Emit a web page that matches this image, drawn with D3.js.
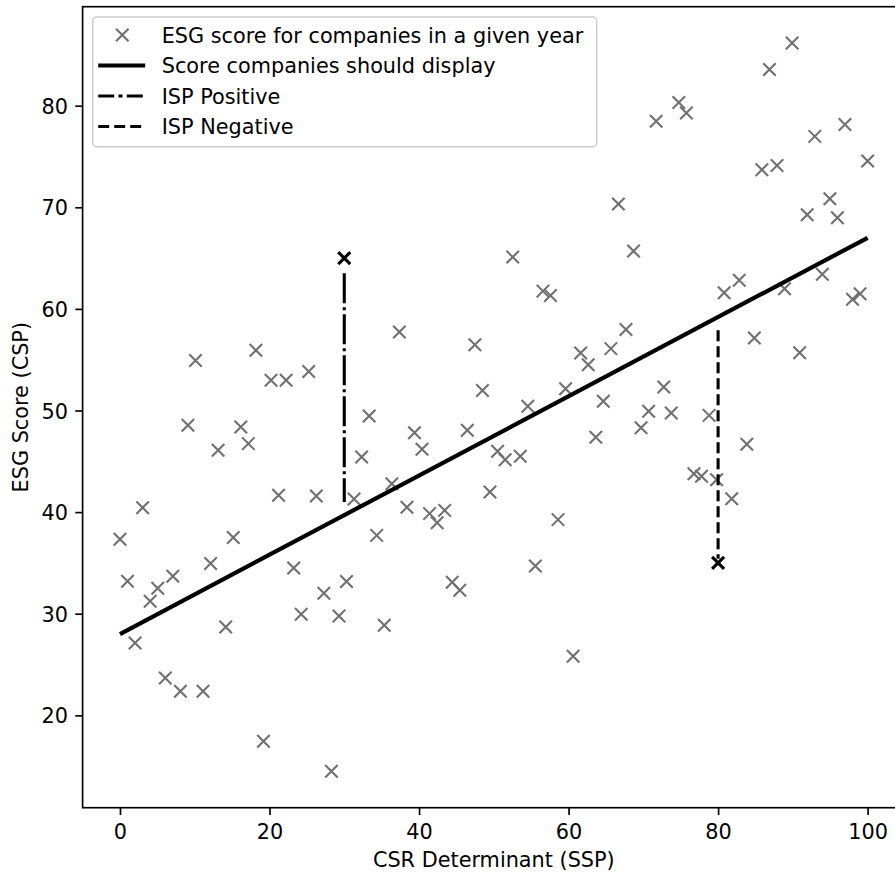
<!DOCTYPE html>
<html>
<head>
<meta charset="utf-8">
<script src="https://cdn.jsdelivr.net/npm/d3@7"></script>
<style>
	body { margin: 0; background: #fff; }
	text { font-family: "DejaVu Sans", sans-serif; }
</style>
</head>
<body>
<svg id="chart" width="895" height="878"></svg>
<script>
'use strict';

// CSR determinant (x) of each company-year
const ssp = [0, 1.01, 2.02, 3.03, 4.04, 5.05, 6.06, 7.07, 8.08, 9.09,
	10.10, 11.11, 12.12, 13.13, 14.14, 15.15, 16.16, 17.17, 18.18, 19.19,
	20.20, 21.21, 22.22, 23.23, 24.24, 25.25, 26.26, 27.27, 28.28, 29.29,
	30.30, 31.31, 32.32, 33.33, 34.34, 35.35, 36.36, 37.37, 38.38, 39.39,
	40.40, 41.41, 42.42, 43.43, 44.44, 45.45, 46.46, 47.47, 48.48, 49.49,
	50.51, 51.52, 52.53, 53.54, 54.55, 55.56, 56.57, 57.58, 58.59, 59.60,
	60.61, 61.62, 62.63, 63.64, 64.65, 65.66, 66.67, 67.68, 68.69, 69.70,
	70.71, 71.72, 72.73, 73.74, 74.75, 75.76, 76.77, 77.78, 78.79, 79.80,
	80.81, 81.82, 82.83, 83.84, 84.85, 85.86, 86.87, 87.88, 88.89, 89.90,
	90.91, 91.92, 92.93, 93.94, 94.95, 95.96, 96.97, 97.98, 98.99, 100];

// ESG score (y) of each company-year
const csp = [37.32, 33.19, 27.11, 40.44, 31.22, 32.50, 23.67, 33.68, 22.36, 48.54,
	54.93, 22.36, 34.93, 46.08, 28.69, 37.49, 48.37, 46.74, 55.92, 17.44,
	52.97, 41.65, 52.97, 34.50, 29.94, 53.85, 41.58, 32.01, 14.49, 29.77,
	33.16, 41.30, 45.42, 49.45, 37.71, 28.86, 42.80, 57.72, 40.47, 47.82,
	46.18, 39.85, 38.96, 40.17, 33.09, 32.30, 48.05, 56.48, 51.98, 41.97,
	45.98, 45.16, 65.10, 45.49, 50.41, 34.69, 61.75, 61.33, 39.26, 52.15,
	25.81, 55.65, 54.51, 47.36, 50.90, 56.09, 70.32, 57.98, 65.69, 48.31,
	49.92, 78.47, 52.31, 49.75, 80.32, 79.27, 43.78, 43.52, 49.52, 43.19,
	61.60, 41.32, 62.81, 46.67, 57.13, 73.70, 83.57, 74.12, 61.99, 86.16,
	55.69, 69.27, 76.98, 63.40, 70.85, 68.98, 78.16, 60.94, 61.50, 74.55];

// score companies should display
const fitX = [0, 100];
const fitY = [28, 67];

// ISP examples: [positive, negative]
const ispX = [30, 80];
const ispScore = [65, 35];
const ispTop = [63.5, 57.9];
const ispBottom = [41, 35.4];

const xTicks = [0, 20, 40, 60, 80, 100];
const yTicks = [20, 30, 40, 50, 60, 70, 80];

const legendLabels = ["ESG score for companies in a given year",
	"Score companies should display", "ISP Positive", "ISP Negative"];

const grey = "#707070";
const fontSize = 20.8;
const dashDot = "30,4,3,4";
const dashed = "11,5";

const svg = d3.select("#chart");
const plotLeft = 82.6, plotRight = 905, plotTop = 6.7, plotBottom = 807.7;

// matplotlib style 5% margins
function padded(ext) {
	const d = (ext[1] - ext[0]) * 0.05;
	return [ext[0] - d, ext[1] + d];
}

const x = d3.scaleLinear().domain(padded(d3.extent(ssp))).range([plotLeft, plotRight]);
const y = d3.scaleLinear().domain(padded(d3.extent(csp))).range([plotBottom, plotTop]);

function cross(sel, size) {
	return sel.attr("d", `M${-size},${-size}L${size},${size}M${-size},${size}L${size},${-size}`);
}

// points
const pts = svg.append("g");
pts.selectAll("path")
	.data(ssp.map((d, i) => [d, csp[i]]))
	.enter().append("path")
	.call(cross, 6.25)
	.attr("transform", d => `translate(${x(d[0])},${y(d[1])})`)
	.attr("stroke", grey)
	.attr("stroke-width", 2.1)
	.attr("fill", "none");

// fitted line
svg.append("line")
	.attr("x1", x(fitX[0])).attr("y1", y(fitY[0]))
	.attr("x2", x(fitX[1])).attr("y2", y(fitY[1]))
	.attr("stroke", "#000")
	.attr("stroke-width", 4.2);

// ISP segments
[dashDot, dashed].forEach((dash, i) => {
	svg.append("line")
		.attr("x1", x(ispX[i])).attr("y1", y(ispTop[i]))
		.attr("x2", x(ispX[i])).attr("y2", y(ispBottom[i]))
		.attr("stroke", "#000")
		.attr("stroke-width", 3.1)
		.attr("stroke-dasharray", dash);
});

svg.append("g").selectAll("path")
	.data(ispX)
	.enter().append("path")
	.call(cross, 6)
	.attr("transform", (d, i) => `translate(${x(d)},${y(ispScore[i])})`)
	.attr("stroke", "#000")
	.attr("stroke-width", 3.1)
	.attr("fill", "none");

// axes
const xAxis = svg.append("g")
	.attr("transform", `translate(0,${plotBottom})`)
	.call(d3.axisBottom(x).tickValues(xTicks).tickSize(7.3).tickPadding(7.3).tickSizeOuter(0));
xAxis.selectAll("text").attr("y", 17);

const yAxis = svg.append("g")
	.attr("transform", `translate(${plotLeft},0)`)
	.call(d3.axisLeft(y).tickValues(yTicks).tickSize(7.3).tickPadding(7.3).tickSizeOuter(0));
yAxis.selectAll("text").attr("dy", "0.365em");

[xAxis, yAxis].forEach(a => {
	a.select(".domain").remove();
	a.selectAll("line").attr("stroke", "#000").attr("stroke-width", 1.67);
	a.selectAll("text")
		.attr("fill", "#000")
		.style("font-size", fontSize + "px")
		.style("font-family", "DejaVu Sans");
});

// spines
svg.append("rect")
	.attr("x", plotLeft).attr("y", plotTop)
	.attr("width", plotRight - plotLeft).attr("height", plotBottom - plotTop)
	.attr("fill", "none")
	.attr("stroke", "#000")
	.attr("stroke-width", 1.67);

svg.append("text")
	.attr("x", (plotLeft + plotRight) / 2)
	.attr("y", 866.5)
	.attr("text-anchor", "middle")
	.style("font-size", fontSize + "px")
	.text("CSR Determinant (SSP)");

svg.append("text")
	.attr("transform", `translate(28.3,${(plotTop + plotBottom) / 2}) rotate(-90)`)
	.attr("text-anchor", "middle")
	.style("font-size", fontSize + "px")
	.text("ESG Score (CSP)");

// legend
const legend = svg.append("g").attr("transform", "translate(92.7,17)");
legend.append("rect")
	.attr("width", 504)
	.attr("height", 129.7)
	.attr("rx", 4)
	.attr("fill", "#fff")
	.attr("fill-opacity", 0.8)
	.attr("stroke", "#cccccc")
	.attr("stroke-width", 1.5);

const row = legend.selectAll("g.row")
	.data(legendLabels)
	.enter().append("g")
	.attr("class", "row")
	.attr("transform", (d, i) => `translate(0,${18 + i * 30.5})`);

row.append("text")
	.attr("x", 69)
	.attr("y", 7.6)
	.style("font-size", fontSize + "px")
	.text(d => d);

row.filter((d, i) => i === 0).append("path")
	.call(cross, 6.25)
	.attr("transform", "translate(29.6,0)")
	.attr("stroke", grey)
	.attr("stroke-width", 2.1)
	.attr("fill", "none");

row.filter((d, i) => i > 0).append("line")
	.attr("x1", 5.5).attr("x2", 52.5)
	.attr("stroke", "#000")
	.attr("stroke-width", (d, i) => i === 0 ? 4.2 : 3.1)
	.attr("stroke-dasharray", (d, i) => [null, "16,4.3,4,4.3", dashed][i]);
</script>
</body>
</html>
